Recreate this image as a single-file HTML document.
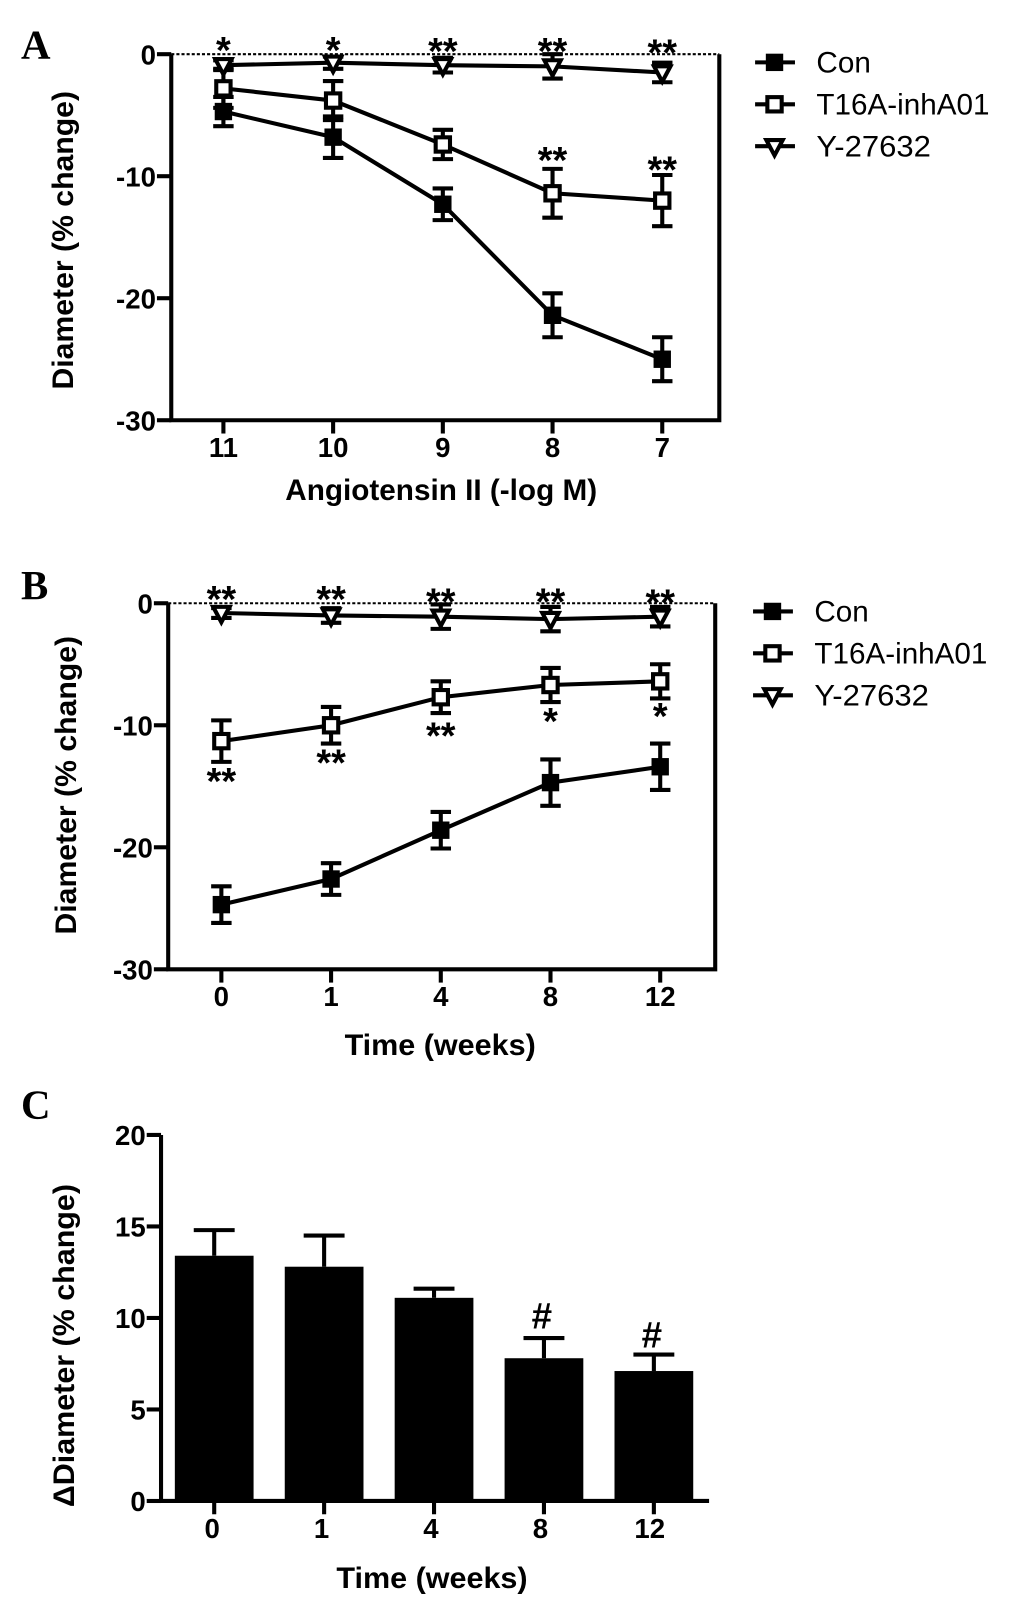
<!DOCTYPE html>
<html lang="en"><head><meta charset="utf-8"><title>Diameter change charts</title>
<style>
html,body{margin:0;padding:0;background:#fff;width:1033px;height:1602px;overflow:hidden}
svg{display:block}
text{font-family:"Liberation Sans",sans-serif;fill:#000}
.tick{font-weight:700;font-size:27px}
.title{font-weight:700;font-size:29px}
.leg{font-size:29px}
.letter{font-family:"Liberation Serif",serif;font-weight:700;font-size:40px}
</style></head>
<body>
<svg id="chart" xmlns="http://www.w3.org/2000/svg" width="1033" height="1602" viewBox="0.5 1 1010.3 1566.8" preserveAspectRatio="none">
<text class="letter" x="21" y="58">A</text>
<text class="letter" x="21" y="587">B</text>
<text class="letter" x="21" y="1095">C</text>
<text class="title" transform="translate(72,236) rotate(-90)" text-anchor="middle" textLength="292" lengthAdjust="spacingAndGlyphs">Diameter (% change)</text>
<text class="title" x="432" y="490" text-anchor="middle" textLength="305" lengthAdjust="spacingAndGlyphs">Angiotensin II (-log M)</text>
<text class="title" transform="translate(75,769) rotate(-90)" text-anchor="middle" textLength="292" lengthAdjust="spacingAndGlyphs">Diameter (% change)</text>
<text class="title" x="431" y="1033" text-anchor="middle" textLength="187" lengthAdjust="spacingAndGlyphs">Time (weeks)</text>
<text class="title" transform="translate(73,1317) rotate(-90)" text-anchor="middle" textLength="316" lengthAdjust="spacingAndGlyphs">ΔDiameter (% change)</text>
<text class="title" x="423" y="1554" text-anchor="middle" textLength="187" lengthAdjust="spacingAndGlyphs">Time (weeks)</text>
<g id="plots"></g>
</svg>
<script>
const yTicksLine = [0, -10, -20, -30];
const yTickLabelsLine = ["0", "-10", "-20", "-30"];
const seriesNames = ["Con", "T16A-inhA01", "Y-27632"];

const catsA = ["11", "10", "9", "8", "7"];
const conA = [-4.7, -6.8, -12.3, -21.4, -25.0];
const conErrA = [1.2, 1.7, 1.3, 1.8, 1.8];
const t16A = [-2.8, -3.8, -7.4, -11.4, -12.0];
const t16ErrA = [1.6, 1.6, 1.2, 2.0, 2.1];
const yA = [-0.9, -0.7, -0.9, -1.0, -1.5];
const yErrA = [0.4, 0.5, 0.6, 1.0, 0.8];
const starsTopA = ["*", "*", "**", "**", "**"];
const starsTopValA = [0.7, 0.7, 0.6, 0.6, 0.5];
const starsMidA = ["", "", "", "**", "**"];
const starsMidValA = [0, 0, 0, -8.3, -9.1];

const catsB = ["0", "1", "4", "8", "12"];
const conB = [-24.7, -22.6, -18.6, -14.7, -13.4];
const conErrB = [1.5, 1.3, 1.5, 1.9, 1.9];
const t16B = [-11.3, -10.0, -7.7, -6.7, -6.4];
const t16ErrB = [1.7, 1.5, 1.3, 1.4, 1.4];
const yB = [-0.8, -1.0, -1.1, -1.3, -1.1];
const yErrB = [0.4, 0.6, 1.0, 1.0, 0.8];
const starsTopB = ["**", "**", "**", "**", "**"];
const starsTopValB = [0.7, 0.7, 0.5, 0.5, 0.4];
const starsMidB = ["**", "**", "**", "*", "*"];
const starsMidValB = [-14.2, -12.7, -10.5, -9.3, -8.9];

const catsC = ["0", "1", "4", "8", "12"];
const barsC = [13.4, 12.8, 11.1, 7.8, 7.1];
const barErrC = [1.4, 1.7, 0.5, 1.1, 0.9];
const yTicksC = [0, 5, 10, 15, 20];
const yTickLabelsC = ["0", "5", "10", "15", "20"];
const marksC = ["", "", "", "#", "#"];
const marksValC = [0, 0, 0, 10.15, 9.1];

const NS = "http://www.w3.org/2000/svg";
const root = document.getElementById("plots");
function el(tag, attrs, parent) {
  const e = document.createElementNS(NS, tag);
  for (const k in attrs) e.setAttribute(k, attrs[k]);
  (parent || root).appendChild(e);
  return e;
}
function line(x1, y1, x2, y2, sw, parent) {
  return el("line", {x1: x1, y1: y1, x2: x2, y2: y2, stroke: "#000", "stroke-width": sw}, parent);
}
function label(str, x, y, cls, anchor, parent) {
  const t = el("text", {x: x, y: y, "class": cls, "text-anchor": anchor}, parent);
  t.textContent = str;
  return t;
}
function marker(kind, x, y, parent) {
  if (kind === 0) {
    el("rect", {x: x - 8.5, y: y - 8.5, width: 17, height: 17, fill: "#000"}, parent);
  } else if (kind === 1) {
    el("rect", {x: x - 7, y: y - 7, width: 14, height: 14, fill: "#fff", stroke: "#000", "stroke-width": 4}, parent);
  } else {
    el("path", {d: "M" + (x - 8) + " " + (y - 6) + "H" + (x + 8) + "L" + x + " " + (y + 9) + "Z", fill: "#fff", stroke: "#000", "stroke-width": 4, "stroke-linejoin": "miter"}, parent);
  }
}
function stars(list, vals, sx, sy, parent) {
  list.forEach(function (s, i) {
    if (!s) return;
    const t = el("text", {x: sx(i), y: sy(vals[i]) + 17, "text-anchor": "middle", "font-size": 37, "font-weight": 700}, parent);
    
    
    t.textContent = s;
  });
}
function linePanel(cfg) {
  const g = el("g", {});
  
  
  const sy = function (v) { return cfg.y0 + (0 - v) * (cfg.y30 - cfg.y0) / 30; };
  const sx = function (i) { return cfg.x0 + i * cfg.dx; };
  const base = sy(-30);
  const zero = el("line", {x1: cfg.ax, y1: sy(0), x2: cfg.right, y2: sy(0), stroke: "#000", "stroke-width": 2, "stroke-dasharray": "3 2"}, g);
  
  
  const axis = el("path", {d: "M" + cfg.ax + " " + sy(0) + "V" + base + "H" + cfg.right + "V" + sy(0), fill: "none", stroke: "#000", "stroke-width": 4}, g);
  
  
  yTicksLine.forEach(function (v, i) {
    line(cfg.ax - 14, sy(v), cfg.ax, sy(v), 4, g);
    const t = label(yTickLabelsLine[i], cfg.ax - 15, sy(v) + 10, "tick", "end", g);
    
    
  });
  cfg.cats.forEach(function (c, i) {
    line(sx(i), base, sx(i), base + 13, 4, g);
    const t = label(c, sx(i), base + 36, "tick", "middle", g);
    
    
  });
  cfg.series.forEach(function (s, k) {
    const sg = el("g", {}, g);
    
    
    const d = s.v.map(function (v, i) { return (i ? "L" : "M") + sx(i) + " " + sy(v); }).join("");
    el("path", {d: d, fill: "none", stroke: "#000", "stroke-width": 4}, sg);
    s.v.forEach(function (v, i) {
      const x = sx(i), e = s.e[i];
      line(x, sy(v - e), x, sy(v + e), 4, sg);
      line(x - 10, sy(v - e), x + 10, sy(v - e), 4, sg);
      line(x - 10, sy(v + e), x + 10, sy(v + e), 4, sg);
      marker(k, x, sy(v), sg);
    });
  });
  stars(cfg.topStars, cfg.topVals, sx, sy, g);
  stars(cfg.midStars, cfg.midVals, sx, sy, g);
  seriesNames.forEach(function (n, k) {
    const y = cfg.legY + k * 41;
    const lg = el("g", {}, g);
    
    
    line(cfg.legX, y, cfg.legX + 39, y, 4, lg);
    marker(k, cfg.legX + 19, y, lg);
    const t = label(n, cfg.legX + 60, y + 10, "leg", "start", lg);
    if (k === 2) {
      t.setAttribute("textLength", "112");
      t.setAttribute("lengthAdjust", "spacingAndGlyphs");
    }
  });
}
linePanel({name: "panel-a-line-chart", ax: 168, right: 704, y0: 54, y30: 412, x0: 219, dx: 107.3, legX: 739, legY: 62, cats: catsA,
  series: [{v: conA, e: conErrA}, {v: t16A, e: t16ErrA}, {v: yA, e: yErrA}],
  topStars: starsTopA, topVals: starsTopValA, midStars: starsMidA, midVals: starsMidValA});
linePanel({name: "panel-b-line-chart", ax: 165, right: 700, y0: 591, y30: 949, x0: 217, dx: 107.3, legX: 737, legY: 599, cats: catsB,
  series: [{v: conB, e: conErrB}, {v: t16B, e: t16ErrB}, {v: yB, e: yErrB}],
  topStars: starsTopB, topVals: starsTopValB, midStars: starsMidB, midVals: starsMidValB});

(function () {
  const g = el("g", {});
  
  
  const ax = 158, y0 = 1469, y20 = 1111, x0 = 210, dx = 107.5, w = 77;
  const sy = function (v) { return y0 - v * (y0 - y20) / 20; };
  const sx = function (i) { return x0 + i * dx; };
  barsC.forEach(function (v, i) {
    const x = sx(i), e = barErrC[i];
    line(x, sy(v), x, sy(v + e), 4, g);
    const cap = line(x - 20, sy(v + e), x + 20, sy(v + e), 4, g);
    
    
    const r = el("rect", {x: x - w / 2, y: sy(v), width: w, height: y0 - sy(v), fill: "#000"}, g);
    
    
    line(x, y0, x, y0 + 13, 4, g);
    const t = label(catsC[i], x - 2 - i * 0.5, y0 + 36, "tick", "middle", g);
    
    
    if (marksC[i]) {
      const m = el("text", {x: x - 2, y: sy(marksValC[i]) + 13, "text-anchor": "middle", "font-size": 36, "font-weight": 700}, g);
      
      
      m.textContent = marksC[i];
    }
  });
  const a = el("path", {d: "M" + ax + " " + sy(20) + "V" + y0 + "H694", fill: "none", stroke: "#000", "stroke-width": 4}, g);
  
  
  yTicksC.forEach(function (v, i) {
    line(ax - 14, sy(v), ax, sy(v), 4, g);
    const t = label(yTickLabelsC[i], ax - 15, sy(v) + 10, "tick", "end", g);
    
    
  });
})();
</script>
</body></html>
